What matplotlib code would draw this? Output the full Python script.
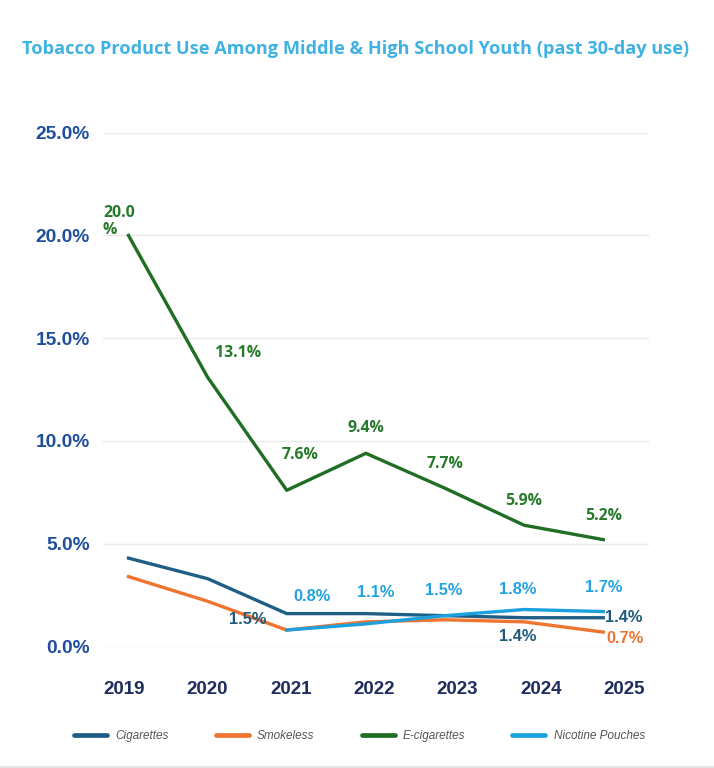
import numpy as np
import matplotlib
matplotlib.use("Agg")
import matplotlib.pyplot as plt
from matplotlib.lines import Line2D

# ---------------- data ----------------
years = ["2019", "2020", "2021", "2022", "2023", "2024", "2025"]
cigarettes = [4.3, 3.3, 1.6, 1.6, 1.5, 1.4, 1.4]
smokeless = [3.4, 2.2, 0.8, 1.2, 1.3, 1.2, 0.7]
ecigarettes = [20.0, 13.1, 7.6, 9.4, 7.7, 5.9, 5.2]
pouches = [np.nan, np.nan, 0.8, 1.1, 1.5, 1.8, 1.7]
series_names = ["Cigarettes", "Smokeless", "E-cigarettes", "Nicotine Pouches"]
y_ticks = [0, 5, 10, 15, 20, 25]

# data labels: (year index, text)
ecig_labels = [(0, "20.0\n%"), (1, "13.1%"), (2, "7.6%"), (3, "9.4%"),
               (4, "7.7%"), (5, "5.9%"), (6, "5.2%")]
pouch_labels = [(2, "0.8%"), (3, "1.1%"), (4, "1.5%"), (5, "1.8%"), (6, "1.7%")]
cig_labels = [(2, "1.5%"), (5, "1.4%"), (6, "1.4%")]
smokeless_labels = [(6, "0.7%")]

# ---------------- style ----------------
C_CIG = "#1F5F86"
C_SMK = "#EE7430"
C_ECIG = "#1F6E24"
C_ECIG_TXT = "#267A2A"
C_POUCH = "#1BA1DE"
C_YT = "#1F4E9C"
C_XT = "#1E2D5E"
C_TITLE = "#3FB1E3"
C_GRID = "#E9E9E9"

TICK_FONT = ["Liberation Sans", "DejaVu Sans"]
LABEL_FONT_E = ["Open Sans", "DejaVu Sans"]

W, H = 714, 768
fig = plt.figure(figsize=(W / 100, H / 100), dpi=100)
fig.patch.set_facecolor("white")

ax_left, ax_right = 103, 649
ax_bottom, ax_top = 646.5, 132.7
ax = fig.add_axes([ax_left / W, (H - ax_bottom) / H,
                   (ax_right - ax_left) / W, (ax_bottom - ax_top) / H])

x = np.arange(len(years))
x0_px, step_px = 128.5, 79.13
ax.set_xlim((ax_left - x0_px) / step_px, (len(years) - 1) + (ax_right - (x0_px + 6 * step_px)) / step_px)
ax.set_ylim(0, 25)

for s in ax.spines.values():
    s.set_visible(False)
ax.set_yticks(y_ticks)
ax.set_yticklabels([f"{v:.1f}%" for v in y_ticks])
ax.yaxis.grid(True, color=C_GRID, lw=1.0)
ax.set_axisbelow(True)

# x tick labels are spaced a bit wider than the data points in the reference
tick_start_px, tick_step_px = 124.0, 83.33
tick_pos = [(tick_start_px + tick_step_px * i - x0_px) / step_px for i in range(len(years))]
ax.set_xticks(tick_pos)
ax.set_xticklabels(years)
ax.tick_params(axis="both", length=0)
ax.tick_params(axis="y", pad=9.5, labelcolor=C_YT)
ax.tick_params(axis="x", pad=25, labelcolor=C_XT)
for lab in ax.get_yticklabels():
    lab.set_fontfamily(TICK_FONT)
    lab.set_fontweight("bold")
    lab.set_fontsize(13.8)
for lab in ax.get_xticklabels():
    lab.set_fontfamily(TICK_FONT)
    lab.set_fontweight("bold")
    lab.set_fontsize(13.5)

lw = 2.4
ax.plot(x, cigarettes, color=C_CIG, lw=lw, solid_joinstyle="round", clip_on=False)
ax.plot(x, smokeless, color=C_SMK, lw=lw, solid_joinstyle="round", clip_on=False)
ax.plot(x, ecigarettes, color=C_ECIG, lw=lw, solid_joinstyle="round", clip_on=False)
ax.plot(x, pouches, color=C_POUCH, lw=lw, solid_joinstyle="round", clip_on=False)

# label offsets in pixels (dx, dy), ha
ecig_off = [(-25.5, 14, "left"), (30, 24, "center"), (13, 35, "center"), (0, 25, "center"),
            (0, 24, "center"), (0, 24, "center"), (0, 24, "center")]
pouch_off = [(25, 34), (10, 31), (-1, 25), (-6, 20), (0, 24)]
cig_off = [(-39, -6, "center"), (-6, -19, "center"), (2, 0, "left")]
smk_off = [(3, -6, "left")]

for (i, t), (dx, dy, ha) in zip(ecig_labels, ecig_off):
    ax.annotate(t, (x[i], ecigarettes[i]), xytext=(dx, dy), textcoords="offset pixels",
                ha=ha, va="center", color=C_ECIG_TXT, fontsize=11.4, fontweight="bold",
                family=LABEL_FONT_E, linespacing=1.05, annotation_clip=False)
for (i, t), (dx, dy) in zip(pouch_labels, pouch_off):
    ax.annotate(t, (x[i], pouches[i]), xytext=(dx, dy), textcoords="offset pixels",
                ha="center", va="center", color="#22A3E0", fontsize=11.8, fontweight="bold",
                family=TICK_FONT, annotation_clip=False)
for (i, t), (dx, dy, ha) in zip(cig_labels, cig_off):
    ax.annotate(t, (x[i], cigarettes[i]), xytext=(dx, dy), textcoords="offset pixels",
                ha=ha, va="center", color="#1F5A7E", fontsize=11.8, fontweight="bold",
                family=TICK_FONT, annotation_clip=False)
for (i, t), (dx, dy, ha) in zip(smokeless_labels, smk_off):
    ax.annotate(t, (x[i], smokeless[i]), xytext=(dx, dy), textcoords="offset pixels",
                ha=ha, va="center", color=C_SMK, fontsize=11.8, fontweight="bold",
                family=TICK_FONT, annotation_clip=False)

# title
fig.text(356 / W, 1 - 49 / H,
         "Tobacco Product Use Among Middle & High School Youth (past 30-day use)",
         ha="center", va="center", color=C_TITLE, fontsize=13.1, fontweight="bold",
         family=["Open Sans", "DejaVu Sans"])

# legend
handles = [Line2D([0], [0], color=c, lw=3.4, solid_capstyle="round")
           for c in (C_CIG, C_SMK, C_ECIG, C_POUCH)]
leg = fig.legend(handles, series_names, loc="center", bbox_to_anchor=(359.5 / W, 1 - 736 / H),
                 ncol=4, frameon=False, handlelength=2.8, handletextpad=0.68,
                 columnspacing=4.0, borderpad=0, borderaxespad=0,
                 prop={"family": TICK_FONT, "style": "italic", "size": 8.5})
for t in leg.get_texts():
    t.set_color("#555555")

# bottom border line
fig.add_artist(Line2D([0, 1], [1 - 766.5 / H, 1 - 766.5 / H], transform=fig.transFigure,
                      color="#E2E2E2", lw=2))

fig.savefig("out.png", dpi=100, facecolor="white")
